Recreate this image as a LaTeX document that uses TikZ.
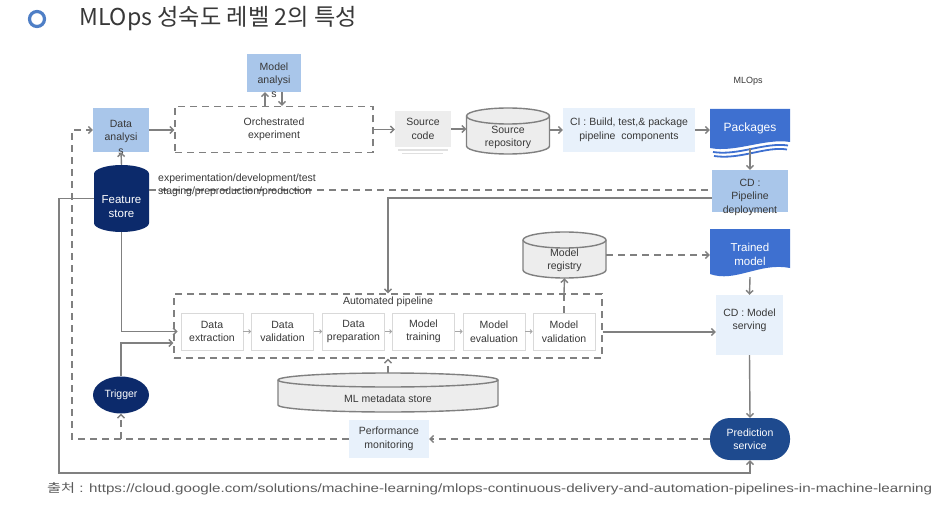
\documentclass[tikz,border=0pt]{standalone}
\usepackage{fontspec}
\setmainfont{Liberation Sans}
\newfontfamily\kr{Noto Sans CJK KR}
\usetikzlibrary{arrows.meta,calc,shapes.geometric}
\definecolor{lsb}{HTML}{A9C6EA}
\definecolor{vlb}{HTML}{E8F1FB}
\definecolor{pkblue}{HTML}{3E70D0}
\definecolor{navy}{HTML}{0C2A6B}
\definecolor{psblue}{HTML}{1E4A8E}
\definecolor{lgray}{HTML}{EDEDED}
\definecolor{lc}{HTML}{808080}
\definecolor{txt}{HTML}{383838}
\definecolor{ring}{HTML}{4F7FC6}
\definecolor{cap}{HTML}{5C5C5C}
% #1 style, #2 cx, #3 rx, #4 top, #5 bottom, #6 ry
\newcommand\cylshape[6]{%
  \path[#1] ({#2-#3},{#4+#6}) -- ({#2-#3},{#5-#6})
     arc[start angle=180,end angle=360,x radius=#3pt,y radius=#6pt]
     -- ({#2+#3},{#4+#6})
     arc[start angle=0,end angle=180,x radius=#3pt,y radius=#6pt] -- cycle;
  \path[#1,fill=none] ({#2-#3},{#4+#6})
     arc[start angle=180,end angle=360,x radius=#3pt,y radius=#6pt];
}
\begin{document}
\begin{tikzpicture}[x=1pt,y=-1pt,
  lab/.style={font=\fontsize{10.5}{13.5}\selectfont, text=txt, align=center, inner sep=0pt},
  wlab/.style={lab, text=white, font=\fontsize{11.5}{14}\selectfont},
  box/.style={rectangle, inner sep=0pt, lab},
  conn/.style={draw=lc, line width=1.4pt},
  arr/.style={conn, -{Straight Barb[length=3.5pt,width=7pt]}},
  dl/.style={conn, dash pattern=on 7pt off 5pt},
  darr/.style={dl, -{Straight Barb[length=3.5pt,width=7pt]}},
  sarr/.style={draw=lc!70, line width=0.8pt, -{Straight Barb[length=2pt,width=4pt]}},
  dbox/.style={draw=lc, line width=1.4pt, dash pattern=on 7pt off 5pt},
  stage/.style={box, fill=white, draw=black!15, line width=0.8pt, minimum width=62pt, minimum height=37pt},
]
\useasboundingbox (0,0) rectangle (950,505);
\fill[white] (0,0) rectangle (950,505);

% title
\node[circle, draw=ring, line width=3.2pt, minimum size=15pt, inner sep=0pt] (ring) at (37,19) {};
\node[anchor=west, inner sep=0pt, font=\kr\fontsize{23.2}{27}\selectfont, text=txt] (title) at (79,19) {MLOps 성숙도 레벨 2의 특성};
\node[lab, font=\fontsize{9}{11}\selectfont] (mlops) at (748,81) {MLOps};

% helper coordinates
\coordinate (fbk) at (72,439);
\coordinate (bl) at (59,473);

% ---------- shapes ----------
\node[box, fill=lsb, minimum width=54pt, minimum height=38pt] (ma) at (274,73) {};
\node[lab] (mat) at (274,80) {Model\\analysi\\s};
\node[box, dbox, minimum width=198pt, minimum height=46pt] (oe) at (274,129.5) {Orchestrated\\experiment};
\node[box, fill=lsb, minimum width=56pt, minimum height=44pt] (da) at (121,130) {};
\node[lab] (dat) at (121,137) {Data\\analysi\\s};

\cylshape{fill=navy}{121.5}{27.5}{165}{232}{9}
\node[box, minimum width=55pt, minimum height=67pt] (fs) at (121.5,198.5) {};
\node[wlab] (fst) at (121.5,207) {Feature\\store};

% source code
\draw[draw=black!12, line width=1.2pt] (398,150) -- (448,150);
\draw[draw=black!12, line width=1.2pt] (402,153.5) -- (443,153.5);
\node[box, fill=lgray, minimum width=56pt, minimum height=36pt] (sc) at (423,129) {Source\\code};

\cylshape{fill=lgray, draw=lc, line width=1.4pt}{508}{41.5}{108}{154}{8}
\node[box, minimum width=83pt, minimum height=46pt] (sr) at (508,131) {};
\node[lab] (srt) at (508,137.5) {Source\\repository};

\node[box, fill=vlb, minimum width=132pt, minimum height=44pt] (ci) at (629,130) {CI : Build, test,\& package\\pipeline\ \ components};

% packages
\fill[pkblue] (710,109) -- (790,109) -- (790,142) .. controls (765,138) and (735,153) .. (710,148) -- cycle;
\draw[pkblue, line width=1.8pt] (713,152) .. controls (738,156) and (765,142) .. (788,145.5);
\draw[pkblue, line width=1.8pt] (714,156) .. controls (740,160) and (766,146) .. (787,149.5);
\node[box, minimum width=80pt, minimum height=39pt] (pk) at (750,128.5) {};
\node[wlab, font=\fontsize{12}{14}\selectfont] (pkt) at (750,128) {Packages};

\node[box, fill=lsb, minimum width=76pt, minimum height=42pt] (cdp) at (750,191) {};
\node[lab] (cdpt) at (750,197) {CD :\\Pipeline\\deployment};

\cylshape{fill=lgray, draw=lc, line width=1.4pt}{564.5}{41.5}{232}{278}{8}
\node[box, minimum width=83pt, minimum height=46pt] (mr) at (564.5,255) {};
\node[lab] (mrt) at (564.5,260.5) {Model\\registry};

% trained model
\fill[pkblue] (710,229) -- (790,229) -- (790,268) .. controls (760,262) and (735,283) .. (710,274) -- cycle;
\node[box, minimum width=80pt, minimum height=47pt] (tm) at (750,252.5) {};
\node[wlab] (tmt) at (750,254) {Trained\\model};

\node[box, fill=vlb, minimum width=67pt, minimum height=60pt] (cdm) at (749.5,325) {};
\node[lab] (cdmt) at (749.5,320.5) {CD : Model\\serving};

% automated pipeline
\node[box, dbox, minimum width=428pt, minimum height=64pt] (ap) at (388,326) {};
\node[lab] (apt) at (388,302) {Automated pipeline};
\node[stage] (de) at (212,331.5) {Data\\extraction};
\node[stage] (dv) at (282.5,331.5) {Data\\validation};
\node[stage] (dp) at (353.5,331.5) {Data\\preparation};
\node[stage] (mt) at (423.5,331.5) {Model\\training};
\node[stage] (me) at (494,331.5) {Model\\evaluation};
\node[stage] (mv) at (564,331.5) {Model\\validation};

\cylshape{fill=lgray, draw=lc, line width=1.4pt}{388}{110}{373}{412}{7}
\node[box, minimum width=220pt, minimum height=39pt] (meta) at (388,392.5) {};
\node[lab] (metat) at (388,398.5) {ML metadata store};

\node[ellipse, fill=navy, minimum width=56pt, minimum height=37pt, inner sep=0pt, wlab, font=\fontsize{10.5}{13}\selectfont] (tr) at (121,395) {Trigger};
\node[box, fill=vlb, minimum width=80pt, minimum height=38pt] (pm) at (389,439) {Performance\\monitoring};
\node[box, fill=psblue, rounded corners=20pt, minimum width=80pt, minimum height=42pt, wlab, font=\fontsize{10.5}{13}\selectfont] (ps) at (750,439) {Prediction\\service};

% ---------- connectors ----------
\draw[arr] (da.east) -- (da.east -| oe.west);
\draw[arr] (fs.north) -- (da.south);
\draw[arr] ([xshift=-9pt]oe.north) -- ([xshift=-9pt]ma.south);
\draw[arr] ([xshift=8pt]ma.south) -- ([xshift=8pt]oe.north);
\draw[arr] (oe.east) -- (oe.east -| sc.west);
\draw[arr] (sc.east) -- (sc.east -| sr.west);
\draw[arr] (sr.east |- ci.west) -- (ci.west);
\draw[arr] (ci.east) -- (ci.east -| pk.west);
\draw[arr] (pk.south) -- (cdp.north);
\draw[dl] ([yshift=8.5pt]fs.east) -- ([yshift=1pt]cdp.west);
\draw[arr] ([yshift=-7pt]cdp.west) -| (ap.north);
\draw[arr] (fs.west) -| (bl) -| (ps.south);
\draw[arr] (fs.south) |- ([xshift=-3pt]de.west);
\draw[arr] (tr.north) |- ([yshift=-17pt]ap.west);
\draw[darr] (pm.west) -- (fbk) |- (da.west);
\draw[darr] (tr.south |- fbk) -- (tr.south);
\draw[darr] (ps.west) -- (pm.east);
\draw[sarr] (de.east) -- (dv.west);
\draw[sarr] (dv.east) -- (dp.west);
\draw[sarr] (dp.east) -- (mt.west);
\draw[sarr] (mt.east) -- (me.west);
\draw[sarr] (me.east) -- (mv.west);
\draw[dl] (mv.north) -- (mv.north |- ap.north);
\draw[arr] (mv.north |- ap.north) -- (mr.south);
\draw[darr] (mr.east) -- (mr.east -| tm.west);
\draw[arr] ([yshift=-1pt]tm.south) -- (cdm.north);
\draw[arr] ([yshift=-6pt]ap.east) -- ([yshift=-6pt]ap.east -| cdm.west);
\draw[arr] (cdm.south) -- (ps.north);
\draw[darr] (meta.north) -- (ap.south);

% environment text (on top of the dashed line)
\node[lab, anchor=west, align=left] (env) at (158,185.5) {experimentation/development/test\\staging/preproduction/production};

% source caption
\node[anchor=west, inner sep=0pt, text=cap] (src) at (47,489) {\resizebox{885pt}{10pt}{\fontsize{12}{14}\selectfont{\kr 출처} : https://cloud.google.com/solutions/machine-learning/mlops-continuous-delivery-and-automation-pipelines-in-machine-learning}};
\end{tikzpicture}
\end{document}
